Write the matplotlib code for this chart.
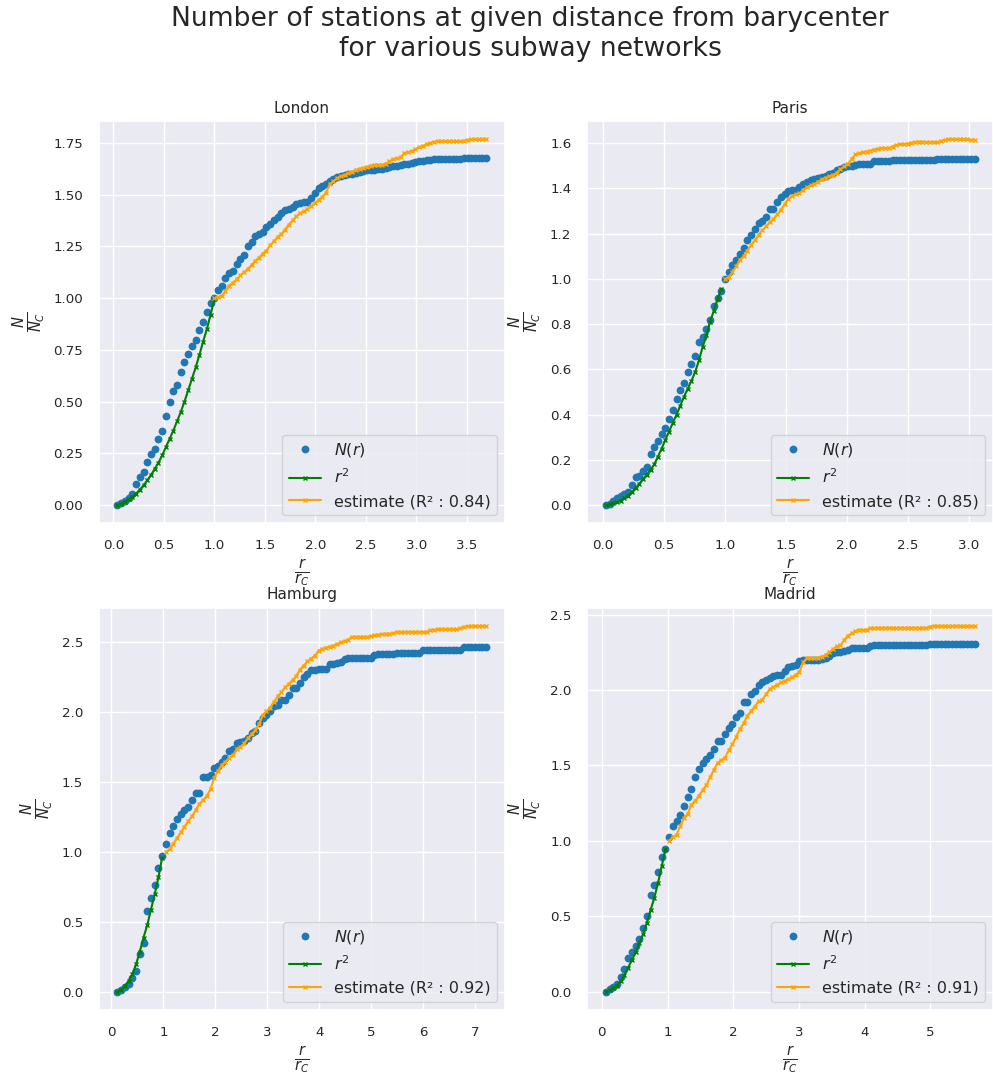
import matplotlib
matplotlib.use("Agg")
import matplotlib.pyplot as plt
import numpy as np
import seaborn as sns

# cities and fit scores
cities = ["London", "Paris", "Hamburg", "Madrid"]
r2_scores = [0.84, 0.85, 0.92, 0.91]

# r / r_C sampling grid (100 samples per city): first and last value
r_first = [0.04, 0.027, 0.115, 0.06]
r_last = [3.69, 3.045, 7.21, 5.675]
n_samples = 100

# N(r) / N_C
london_n = [0.0, 0.011, 0.02, 0.035, 0.056, 0.10, 0.136, 0.16, 0.21, 0.245,
            0.27, 0.32, 0.36, 0.43, 0.50, 0.55, 0.58, 0.645, 0.69, 0.73,
            0.77, 0.80, 0.845, 0.885, 0.935, 0.977, 1.0, 1.04, 1.06, 1.095,
            1.12, 1.13, 1.165, 1.19, 1.21, 1.25, 1.27, 1.30, 1.31, 1.32,
            1.345, 1.36, 1.375, 1.39, 1.41, 1.425, 1.43, 1.44, 1.455, 1.46,
            1.465, 1.465, 1.485, 1.51, 1.53, 1.54, 1.55, 1.565, 1.575, 1.585,
            1.59, 1.595, 1.60, 1.60, 1.605, 1.61, 1.615, 1.62, 1.62, 1.62,
            1.625, 1.625, 1.63, 1.633, 1.636, 1.64, 1.645, 1.648, 1.65, 1.655,
            1.657, 1.66, 1.66, 1.665, 1.668, 1.67, 1.67, 1.67, 1.67, 1.67,
            1.672, 1.672, 1.672, 1.675, 1.675, 1.675, 1.675, 1.675, 1.675, 1.675]
paris_n = [0.0, 0.007, 0.02, 0.03, 0.04, 0.05, 0.06, 0.09, 0.125, 0.13,
           0.15, 0.17, 0.225, 0.255, 0.285, 0.315, 0.34, 0.38, 0.42, 0.47,
           0.51, 0.54, 0.59, 0.625, 0.66, 0.72, 0.745, 0.78, 0.82, 0.88,
           0.915, 0.945, 1.0, 1.03, 1.06, 1.085, 1.11, 1.135, 1.17, 1.195,
           1.22, 1.245, 1.255, 1.275, 1.31, 1.31, 1.34, 1.36, 1.375, 1.39,
           1.395, 1.395, 1.405, 1.42, 1.427, 1.437, 1.44, 1.445, 1.45, 1.455,
           1.465, 1.467, 1.48, 1.485, 1.493, 1.497, 1.50, 1.505, 1.508, 1.508,
           1.51, 1.51, 1.52, 1.52, 1.52, 1.522, 1.522, 1.525, 1.525, 1.525,
           1.525, 1.525, 1.525, 1.525, 1.525, 1.525, 1.525, 1.525, 1.525, 1.53,
           1.53, 1.53, 1.53, 1.53, 1.53, 1.53, 1.53, 1.53, 1.53, 1.53]
hamburg_n = [0.005, 0.02, 0.035, 0.06, 0.105, 0.153, 0.27, 0.354, 0.578, 0.672,
             0.766, 0.884, 0.974, 1.057, 1.137, 1.184, 1.238, 1.274, 1.302, 1.32,
             1.368, 1.42, 1.42, 1.538, 1.538, 1.552, 1.597, 1.615, 1.64, 1.67,
             1.72, 1.733, 1.78, 1.788, 1.79, 1.816, 1.85, 1.863, 1.922, 1.953,
             1.976, 2.005, 2.04, 2.052, 2.087, 2.087, 2.12, 2.17, 2.17, 2.205,
             2.245, 2.27, 2.30, 2.30, 2.307, 2.307, 2.307, 2.34, 2.34, 2.347,
             2.354, 2.377, 2.387, 2.387, 2.387, 2.387, 2.387, 2.387, 2.387, 2.406,
             2.41, 2.41, 2.41, 2.41, 2.41, 2.422, 2.422, 2.422, 2.422, 2.422,
             2.422, 2.422, 2.44, 2.44, 2.44, 2.44, 2.44, 2.44, 2.44, 2.44,
             2.44, 2.44, 2.44, 2.465, 2.465, 2.465, 2.465, 2.465, 2.465, 2.465]
madrid_n = [0.0, 0.015, 0.03, 0.05, 0.1, 0.15, 0.22, 0.26, 0.3, 0.35,
            0.42, 0.5, 0.64, 0.71, 0.79, 0.895, 0.943, 1.026, 1.096, 1.13,
            1.17, 1.23, 1.29, 1.344, 1.42, 1.476, 1.513, 1.54, 1.57, 1.607,
            1.66, 1.66, 1.706, 1.75, 1.776, 1.82, 1.85, 1.92, 1.92, 1.97,
            1.996, 2.035, 2.053, 2.068, 2.08, 2.09, 2.096, 2.10, 2.123, 2.15,
            2.162, 2.167, 2.19, 2.2, 2.2, 2.2, 2.2, 2.2, 2.206, 2.215,
            2.228, 2.243, 2.25, 2.254, 2.259, 2.265, 2.276, 2.28, 2.28, 2.28,
            2.28, 2.294, 2.298, 2.298, 2.298, 2.298, 2.298, 2.298, 2.298, 2.298,
            2.298, 2.298, 2.298, 2.298, 2.298, 2.298, 2.298, 2.303, 2.303, 2.303,
            2.303, 2.303, 2.303, 2.303, 2.303, 2.303, 2.303, 2.303, 2.303, 2.303]

# r^2 curve (first samples, r < 1)
london_r2 = [0.0, 0.008, 0.017, 0.028, 0.04, 0.055, 0.075, 0.095, 0.12, 0.145,
             0.175, 0.205, 0.24, 0.28, 0.32, 0.36, 0.405, 0.45, 0.5, 0.555,
             0.61, 0.665, 0.725, 0.79, 0.85, 0.92, 0.995]
paris_r2 = [0.0, 0.003, 0.008, 0.013, 0.02, 0.03, 0.042, 0.058, 0.075, 0.095,
            0.115, 0.135, 0.155, 0.18, 0.215, 0.25, 0.29, 0.325, 0.365, 0.40,
            0.44, 0.48, 0.515, 0.55, 0.59, 0.64, 0.70, 0.75, 0.81, 0.86,
            0.91, 0.955]
hamburg_r2 = [0.005, 0.02, 0.045, 0.08, 0.13, 0.2, 0.29, 0.39, 0.48, 0.59,
              0.70, 0.82, 0.96]
madrid_r2 = [0.0, 0.01, 0.022, 0.04, 0.07, 0.11, 0.16, 0.21, 0.26, 0.32,
             0.38, 0.455, 0.54, 0.62, 0.72, 0.83, 0.943]

# estimate (last samples, r >= 1)
london_est = [1.0, 1.005, 1.01, 1.035, 1.06, 1.075, 1.09, 1.11, 1.125, 1.14,
              1.16, 1.18, 1.195, 1.215, 1.23, 1.255, 1.275, 1.295, 1.31, 1.33,
              1.355, 1.375, 1.395, 1.41, 1.42, 1.43, 1.445, 1.46, 1.475, 1.49,
              1.51, 1.55, 1.565, 1.58, 1.59, 1.595, 1.605, 1.61, 1.62, 1.625,
              1.63, 1.635, 1.64, 1.645, 1.645, 1.645, 1.65, 1.66, 1.67, 1.675,
              1.68, 1.70, 1.705, 1.71, 1.72, 1.73, 1.735, 1.745, 1.75, 1.755,
              1.76, 1.758, 1.758, 1.758, 1.758, 1.758, 1.758, 1.76, 1.765, 1.767,
              1.767, 1.767, 1.767, 1.767]
paris_est = [1.0, 1.008, 1.03, 1.055, 1.085, 1.10, 1.125, 1.15, 1.17, 1.195,
             1.215, 1.232, 1.25, 1.265, 1.285, 1.305, 1.33, 1.355, 1.365, 1.375,
             1.38, 1.392, 1.405, 1.413, 1.42, 1.43, 1.44, 1.447, 1.453, 1.46,
             1.47, 1.485, 1.497, 1.508, 1.53, 1.55, 1.555, 1.56, 1.563, 1.567,
             1.572, 1.576, 1.578, 1.578, 1.578, 1.585, 1.593, 1.595, 1.596, 1.598,
             1.602, 1.605, 1.607, 1.607, 1.605, 1.605, 1.605, 1.605, 1.61, 1.615,
             1.617, 1.617, 1.617, 1.617, 1.617, 1.617, 1.615, 1.615]
hamburg_est = [1.0, 1.02, 1.06, 1.10, 1.14, 1.18, 1.22, 1.255, 1.30, 1.345,
               1.37, 1.40, 1.45, 1.53, 1.58, 1.62, 1.645, 1.67, 1.69, 1.733,
               1.75, 1.775, 1.81, 1.84, 1.87, 1.91, 1.975, 2.005, 2.03, 2.07,
               2.11, 2.14, 2.175, 2.20, 2.225, 2.255, 2.30, 2.33, 2.36, 2.38,
               2.40, 2.435, 2.45, 2.458, 2.465, 2.472, 2.485, 2.495, 2.505, 2.515,
               2.535, 2.535, 2.535, 2.535, 2.535, 2.54, 2.545, 2.55, 2.555, 2.557,
               2.557, 2.56, 2.57, 2.57, 2.57, 2.57, 2.57, 2.57, 2.57, 2.57,
               2.57, 2.58, 2.585, 2.59, 2.59, 2.59, 2.59, 2.59, 2.59, 2.595,
               2.606, 2.61, 2.613, 2.613, 2.613, 2.613, 2.613]
madrid_est = [1.0, 1.025, 1.04, 1.10, 1.15, 1.18, 1.24, 1.265, 1.30, 1.335,
              1.37, 1.42, 1.47, 1.515, 1.535, 1.55, 1.60, 1.64, 1.69, 1.74,
              1.78, 1.83, 1.86, 1.89, 1.925, 1.935, 1.97, 2.005, 2.02, 2.035,
              2.05, 2.06, 2.07, 2.085, 2.10, 2.12, 2.185, 2.21, 2.21, 2.21,
              2.215, 2.22, 2.232, 2.25, 2.27, 2.29, 2.296, 2.33, 2.36, 2.375,
              2.39, 2.40, 2.398, 2.397, 2.41, 2.412, 2.412, 2.412, 2.412, 2.412,
              2.412, 2.412, 2.412, 2.412, 2.412, 2.412, 2.412, 2.412, 2.412, 2.412,
              2.42, 2.425, 2.425, 2.425, 2.425, 2.425, 2.425, 2.425, 2.425, 2.425,
              2.425, 2.425, 2.425]

n_values = [london_n, paris_n, hamburg_n, madrid_n]
r2_values = [london_r2, paris_r2, hamburg_r2, madrid_r2]
est_values = [london_est, paris_est, hamburg_est, madrid_est]

sns.set_theme()
plt.rcParams.update({
    'xtick.labelsize': 9.6,
    'ytick.labelsize': 9.6,
    'xtick.major.pad': 5.5,
    'ytick.major.pad': 5.5,
    'axes.titlesize': 11,
    'axes.labelsize': 15,
    'legend.fontsize': 11.5,
})

fig, axes = plt.subplots(2, 2, figsize=(9.93, 10.75), dpi=100)
fig.subplots_adjust(left=0.0997, right=1.0, top=0.8874, bottom=0.0605,
                    wspace=0.204, hspace=0.209)

for k, ax in enumerate(axes.flat):
    r = np.linspace(r_first[k], r_last[k], n_samples)
    n_r2 = len(r2_values[k])
    n_est = len(est_values[k])
    ax.plot(r, n_values[k], 'o', color='#1f77b4', ms=4.6, label='$N(r)$')
    ax.plot(r[:n_r2], r2_values[k], color='green', marker='x', ms=3,
            lw=1.5, label='$r^2$')
    ax.plot(r[-n_est:], est_values[k], color='orange', marker='x', ms=3,
            lw=1.5, label='estimate (R² : %.2f)' % r2_scores[k])
    ax.set_title(cities[k])
    ax.set_xlabel(r'$\frac{r}{r_C}$')
    ax.set_ylabel(r'$\frac{N}{N_C}$')
    ax.legend(loc='lower right')

fig.suptitle('Number of stations at given distance from barycenter\n'
             'for various subway networks', fontsize=19.2, x=0.534, y=0.994,
             va='top')

fig.savefig('out.png', dpi=100)
